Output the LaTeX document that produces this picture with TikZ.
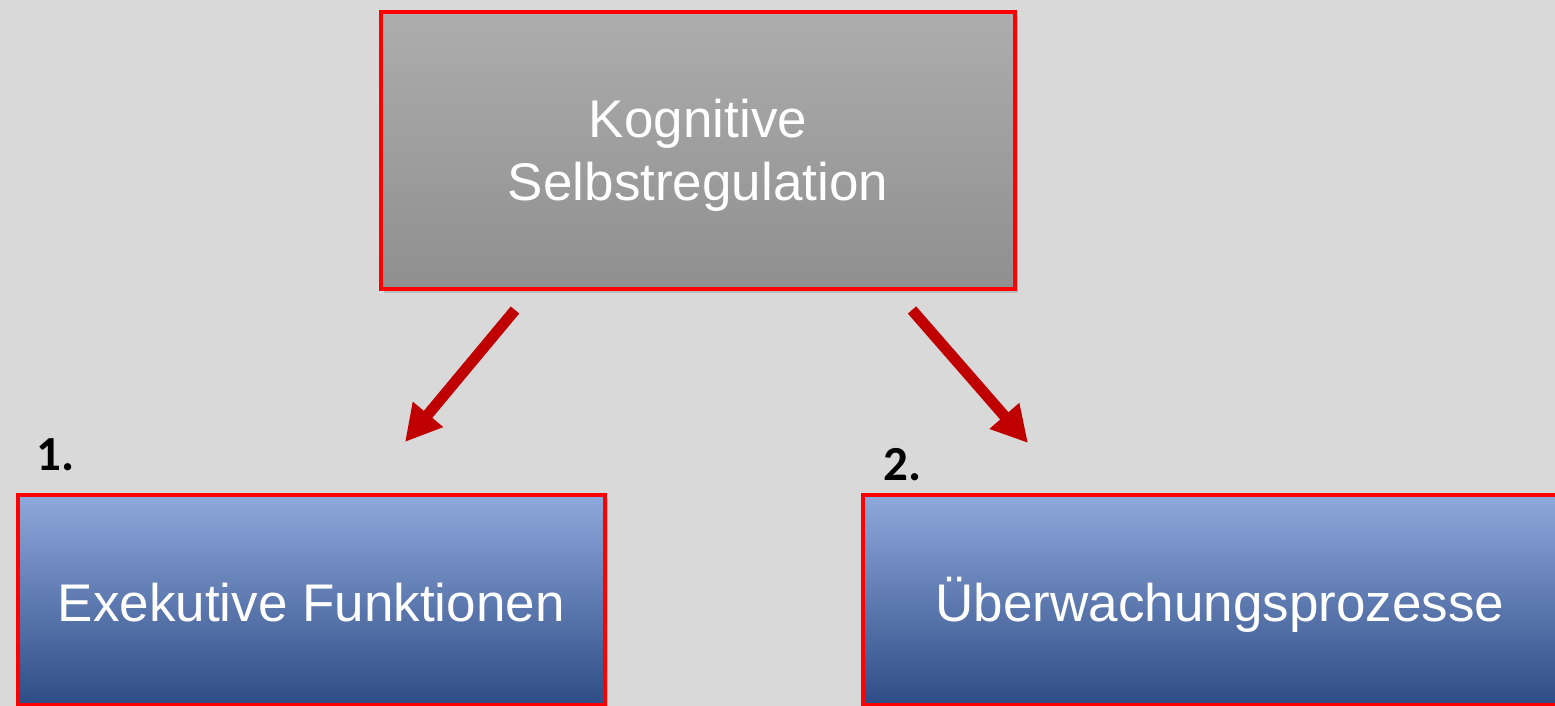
\documentclass[tikz,border=0pt]{standalone}
\usepackage{fontspec}
\setmainfont{Liberation Sans}
\newfontfamily\numfont{Carlito}
\usetikzlibrary{arrows.meta,shadows}

\definecolor{bg}{HTML}{D9D9D9}
\definecolor{boxred}{HTML}{FF0000}
\definecolor{arrowred}{HTML}{C00000}
\definecolor{greytop}{HTML}{ADADAD}
\definecolor{greybot}{HTML}{8F8F8F}
\definecolor{bluetop}{HTML}{8EA9DB}
\definecolor{bluemid}{HTML}{4672C2}
\definecolor{bluebot}{HTML}{2E4C86}

\tikzset{
  framebox/.style={draw=boxred, line width=4pt, inner sep=0pt, outer sep=0pt,
    text=white, align=center,
    drop shadow={opacity=0.3, shadow xshift=3pt, shadow yshift=-4pt}},
  greybox/.style={framebox, top color=greytop, bottom color=greybot,
    font=\fontsize{53}{63}\selectfont},
  bluebox/.style={framebox, top color=bluetop, middle color=bluemid, bottom color=bluebot,
    font=\fontsize{53}{63}\selectfont, text height=44pt, text depth=0pt},
  redarrow/.style={draw=arrowred, line width=11pt,
    -{Triangle[length=36pt,width=37pt]}},
  numlabel/.style={font=\numfont\bfseries\fontsize{49}{56}\selectfont,
    inner sep=0pt, anchor=base west, text=black}
}

\begin{document}
\begin{tikzpicture}[x=1pt,y=-1pt]
  % canvas
  \fill[bg] (0,0) rectangle (1555,706);
  \useasboundingbox (0,0) rectangle (1555,706);

  % boxes
  \node[greybox, minimum width=634pt, minimum height=277pt] (top) at (698,150.5)
    {\rule{0pt}{47pt}Kognitive\\Selbstregulation};
  \node[bluebox, minimum width=587.5pt, minimum height=210.5pt] (exec) at (311.25,599.75)
    {Exekutive Funktionen};
  \node[bluebox, minimum width=714pt, minimum height=210.5pt] (mon) at (1220,599.75)
    {Überwachungsprozesse};

  % numbering
  \node[numlabel] (n1) at (36,470) {1.};
  \node[numlabel] (n2) at (883,480) {2.};

  % arrows
  \coordinate (l0) at (515,310);
  \coordinate (l1) at (405,442);
  \coordinate (r0) at (912,310);
  \coordinate (r1) at (1028,443);
  \draw[redarrow] (l0) -- (l1);
  \draw[redarrow] (r0) -- (r1);
\end{tikzpicture}
\end{document}
